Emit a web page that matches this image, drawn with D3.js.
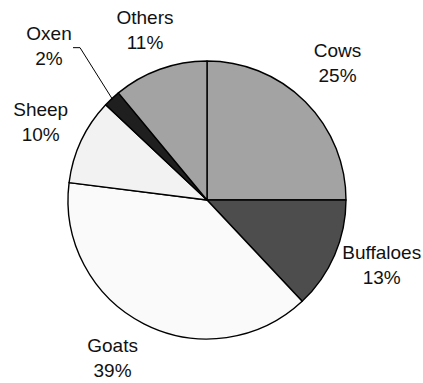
<!DOCTYPE html>
<html>
<head>
<meta charset="utf-8">
<script src="https://cdn.jsdelivr.net/npm/d3@7/dist/d3.min.js"></script>
<style>
html,body{margin:0;padding:0;background:#fff;}
svg{display:block;}
text{font-family:"Liberation Sans",Arial,sans-serif;font-size:19px;fill:#111;}
</style>
</head>
<body>
<svg id="chart" width="423" height="383"></svg>
<script>
const categories = ["Cows", "Buffaloes", "Goats", "Sheep", "Oxen", "Others"];
const values = [25, 13, 39, 10, 2, 11];
const colors = ["#a3a3a3", "#4d4d4d", "#fafafa", "#f2f2f2", "#1f1f1f", "#a3a3a3"];

const W = 423, H = 383;
const cx = 207, cy = 200, R = 139;
const labelR = 186, oxenLabelR = 222;
// small layout nudges for label blocks (pixels)
const labelNudge = {
  Cows: [-1, -5], Buffaloes: [4, -9], Goats: [-10, -8],
  Sheep: [2, 1], Oxen: [-6, 8], Others: [1, 5]
};

const svg = d3.select("#chart");
const g = svg.append("g").attr("transform", `translate(${cx},${cy})`);

const data = categories.map((c, i) => ({name: c, value: values[i], color: colors[i]}));
const pie = d3.pie().sort(null).value(d => d.value);
const arcs = pie(data);
const arc = d3.arc().innerRadius(0).outerRadius(R);

g.selectAll("path.slice").data(arcs).enter().append("path")
  .attr("class", "slice")
  .attr("d", arc)
  .attr("fill", d => d.data.color)
  .attr("stroke", "#000")
  .attr("stroke-width", 1.4)
  .attr("stroke-linejoin", "round");

const total = d3.sum(values);
function pt(angle, r) { return [r * Math.sin(angle), -r * Math.cos(angle)]; }

arcs.forEach(d => {
  const mid = (d.startAngle + d.endAngle) / 2;
  const isOxen = d.data.name === "Oxen";
  const base = pt(mid, isOxen ? oxenLabelR : labelR);
  const nd = labelNudge[d.data.name] || [0, 0];
  const lx = base[0] + nd[0], ly = base[1] + nd[1];
  const t = g.append("text").attr("text-anchor", "middle");
  const b1 = ly - 6;
  t.append("tspan").attr("x", lx).attr("y", b1).text(d.data.name);
  t.append("tspan").attr("x", lx).attr("y", b1 + 25)
    .text(Math.round(d.data.value / total * 100) + "%");
  if (isOxen) {
    const end = pt(mid, R - 1);
    const start = [lx + 24, b1 + 7.5];
    const elbow = [lx + 31, b1 + 7.5];
    g.append("polyline")
      .attr("points", [start, elbow, end].map(p => p.join(",")).join(" "))
      .attr("fill", "none").attr("stroke", "#000").attr("stroke-width", 1);
  }
});
</script>
</body>
</html>
